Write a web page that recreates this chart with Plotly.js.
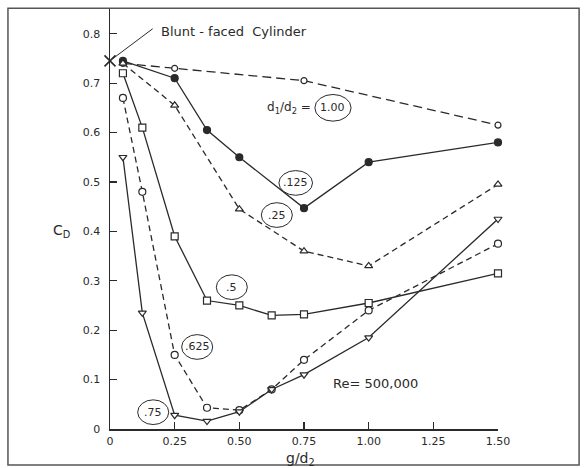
<!DOCTYPE html>
<html>
<head>
<meta charset="utf-8">
<script src="https://cdn.plot.ly/plotly-3.0.1.min.js"></script>
<style>
html,body{margin:0;padding:0;background:#fff;}
#chart{width:586px;height:468px;}
</style>
</head>
<body>
<div id="chart"></div>
<script>
// g/d2 values and drag coefficient C_D for each d1/d2 ratio
const x_100 = [0.05, 0.25, 0.75, 1.5];
const cd_100 = [0.74, 0.73, 0.705, 0.615];

const x_125 = [0.05, 0.25, 0.375, 0.5, 0.75, 1.0, 1.5];
const cd_125 = [0.745, 0.71, 0.605, 0.55, 0.447, 0.54, 0.58];

const x_25 = [0.05, 0.25, 0.5, 0.75, 1.0, 1.5];
const cd_25 = [0.74, 0.655, 0.445, 0.36, 0.33, 0.495];

const x_5 = [0.05, 0.125, 0.25, 0.375, 0.5, 0.625, 0.75, 1.0, 1.5];
const cd_5 = [0.72, 0.61, 0.39, 0.26, 0.25, 0.23, 0.232, 0.255, 0.315];

const x_625 = [0.05, 0.125, 0.25, 0.375, 0.5, 0.625, 0.75, 1.0, 1.5];
const cd_625 = [0.67, 0.48, 0.15, 0.043, 0.038, 0.08, 0.14, 0.24, 0.375];

const x_75 = [0.05, 0.125, 0.25, 0.375, 0.5, 0.625, 0.75, 1.0, 1.5];
const cd_75 = [0.55, 0.235, 0.028, 0.016, 0.035, 0.08, 0.11, 0.185, 0.425];

const x_blunt = [0];
const cd_blunt = [0.745];

const xTickVals = [0, 0.25, 0.5, 0.75, 1.0, 1.25, 1.5];
const xTickText = ['0', '0.25', '0.50', '0.75', '1.00', '1.25', '1.50'];
const yTickVals = [0, 0.1, 0.2, 0.3, 0.4, 0.5, 0.6, 0.7, 0.8];
const yTickText = ['0', '0.1', '0.2', '0.3', '0.4', '0.5', '0.6', '0.7', '0.8'];

const ink = '#2a2a2a';
const font = 'DejaVu Sans, Arial, sans-serif';

function series(x, y, dash, symbol, filled, size) {
  return {
    x: x, y: y, type: 'scatter', mode: 'lines+markers',
    line: {color: ink, width: 1.3, dash: dash},
    marker: {symbol: symbol, size: size || 7, color: filled ? ink : 'white',
             line: {color: ink, width: 1.2}},
    cliponaxis: false, hoverinfo: 'skip'
  };
}

const traces = [
  series(x_100, cd_100, '9px,5px', 'circle', false, 6),
  series(x_125, cd_125, 'solid', 'circle', true, 7),
  series(x_25, cd_25, '6px,4px', 'triangle-up', false, 7),
  series(x_5, cd_5, 'solid', 'square', false, 7),
  series(x_625, cd_625, '6px,4px', 'circle', false, 7),
  series(x_75, cd_75, 'solid', 'triangle-down', false, 7),
  {x: x_blunt, y: cd_blunt, type: 'scatter', mode: 'markers',
   marker: {symbol: 'x-thin-open', size: 11, color: ink, line: {color: ink, width: 1.6}},
   cliponaxis: false, hoverinfo: 'skip'}
];

const labelFont = {family: font, size: 11, color: ink};
function circled(txt, x, y) {
  return {text: txt, x: x, y: y, xref: 'x', yref: 'y', showarrow: false,
          font: labelFont, xanchor: 'center', yanchor: 'middle'};
}
function ellipse(x, y, w, h) {
  return {type: 'circle', xref: 'x', yref: 'y', x0: x - w/2, x1: x + w/2,
          y0: y - h/2, y1: y + h/2, line: {color: ink, width: 1}};
}

const labels = [
  {t: '1.00', x: 0.862, y: 0.65, w: 0.14, h: 0.054},
  {t: '.125', x: 0.718, y: 0.498, w: 0.13, h: 0.05},
  {t: '.25', x: 0.645, y: 0.433, w: 0.12, h: 0.05},
  {t: '.5', x: 0.471, y: 0.287, w: 0.12, h: 0.05},
  {t: '.625', x: 0.337, y: 0.166, w: 0.12, h: 0.05},
  {t: '.75', x: 0.167, y: 0.034, w: 0.12, h: 0.05}
];

const annotations = labels.map(l => circled(l.t, l.x, l.y));
annotations.push({text: 'd<sub>1</sub>/d<sub>2</sub> =', x: 0.785, y: 0.65, xref: 'x', yref: 'y',
  xanchor: 'right', yanchor: 'middle', showarrow: false, font: {family: font, size: 12, color: ink}});
annotations.push({text: 'Re= 500,000', x: 1.025, y: 0.093, xref: 'x', yref: 'y',
  xanchor: 'center', yanchor: 'middle', showarrow: false, font: {family: font, size: 13, color: ink}});
annotations.push({text: 'Blunt - faced  Cylinder', x: 0.19, y: 0.805, xref: 'x', yref: 'y',
  xanchor: 'left', yanchor: 'middle', showarrow: false, font: {family: font, size: 13, color: ink}});
annotations.push({text: 'C<sub>D</sub>', x: -0.125, y: 0.4, xref: 'paper', yref: 'y',
  xanchor: 'center', yanchor: 'middle', showarrow: false, font: {family: font, size: 14, color: ink}});
annotations.push({text: 'g/d<sub>2</sub>', x: 0.735, y: -0.071, xref: 'x', yref: 'paper',
  xanchor: 'center', yanchor: 'middle', showarrow: false, font: {family: font, size: 14, color: ink}});

const shapes = labels.map(l => ellipse(l.x, l.y, l.w, l.h));
// leader line for blunt-faced cylinder
shapes.push({type: 'line', xref: 'x', yref: 'y', x0: 0.012, y0: 0.75, x1: 0.165, y1: 0.81,
  line: {color: ink, width: 1}});
// outer frame
shapes.push({type: 'rect', xref: 'paper', yref: 'paper', x0: -0.263, x1: 1.209, y0: -0.086, y1: 1.002,
  line: {color: '#555', width: 1.5}});

const layout = {
  width: 586, height: 468,
  margin: {l: 110, r: 88, t: 9, b: 39},
  paper_bgcolor: 'white', plot_bgcolor: 'white',
  showlegend: false,
  font: {family: font, size: 11, color: ink},
  xaxis: {range: [0, 1.5], tickvals: xTickVals, ticktext: xTickText,
    showgrid: false, zeroline: false, showline: true, linecolor: ink, linewidth: 1.5,
    ticks: 'inside', ticklen: 7, tickcolor: ink, tickwidth: 1.2,
    tickfont: {family: font, size: 11, color: ink}, ticklabelstandoff: 1},
  yaxis: {range: [0, 0.85], tickvals: yTickVals, ticktext: yTickText,
    showgrid: false, zeroline: false, showline: true, linecolor: ink, linewidth: 1.5,
    ticks: 'inside', ticklen: 7, tickcolor: ink, tickwidth: 1.2,
    tickfont: {family: font, size: 11, color: ink}, ticklabelstandoff: 6},
  annotations: annotations,
  shapes: shapes
};

Plotly.newPlot('chart', traces, layout, {staticPlot: true, displayModeBar: false});
</script>
</body>
</html>
